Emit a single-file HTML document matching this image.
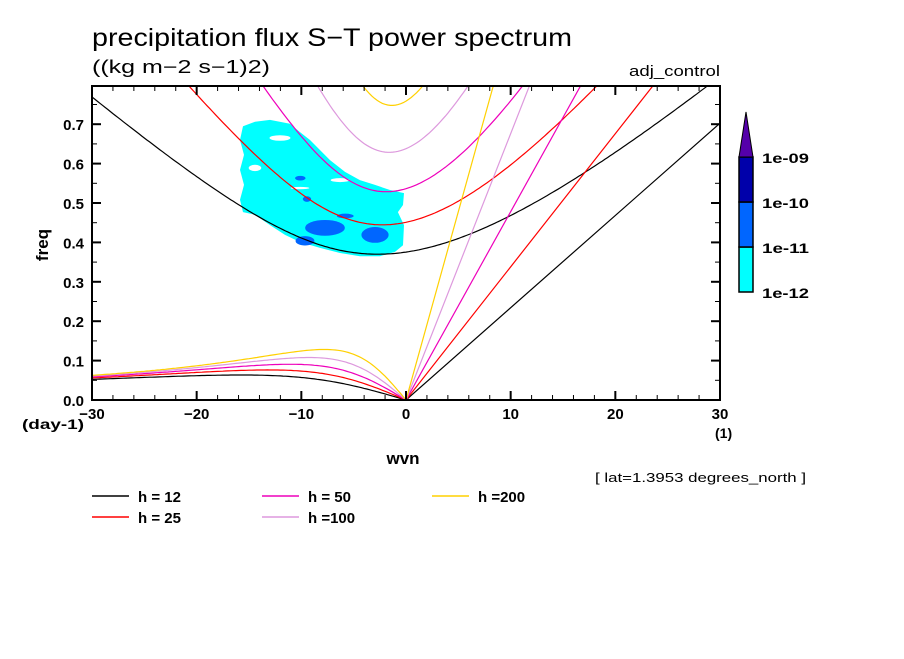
<!DOCTYPE html>
<html><head><meta charset="utf-8">
<style>
body{margin:0;background:#fff;}
svg text{font-family:"Liberation Sans",sans-serif;}
</style></head>
<body>
<svg id="c" width="904" height="654" viewBox="0 0 904 654" xmlns="http://www.w3.org/2000/svg">
<text x="92" y="46" font-size="25" textLength="480" lengthAdjust="spacingAndGlyphs">precipitation flux S−T power spectrum</text>
<text x="92" y="73" font-size="18" textLength="178" lengthAdjust="spacingAndGlyphs">((kg m−2 s−1)2)</text>
<text x="629" y="76" font-size="15" textLength="91" lengthAdjust="spacingAndGlyphs">adj_control</text>
<g id="plot"></g>
<text x="48" y="245" font-size="17" font-weight="bold" transform="rotate(-90 48 245)" text-anchor="middle">freq</text>
<text x="403" y="464" font-size="17" font-weight="bold" text-anchor="middle">wvn</text>
<text x="22" y="429" font-size="14" font-weight="bold" textLength="62" lengthAdjust="spacingAndGlyphs">(day-1)</text>
<text x="715" y="438" font-size="14" font-weight="bold">(1)</text>
<text x="595" y="482" font-size="13" textLength="211" lengthAdjust="spacingAndGlyphs">[ lat=1.3953 degrees_north ]</text>
<g id="cbar"></g>
<g id="legend"></g>
</svg>
<script>
const hValues=[12,25,50,100,200];
const hColors=['#000000','#ff0000','#ee00bb','#dd99dd','#ffd000'];
const hLabels=['h = 12','h = 25','h = 50','h =100','h =200'];
const xTicks=[-30,-20,-10,0,10,20,30];
const yTicks=[0.0,0.1,0.2,0.3,0.4,0.5,0.6,0.7];
const cbLevels=['1e-12','1e-11','1e-10','1e-09'];
const cbColors=['#00ffff','#0066ff','#0000aa','#5500aa'];
// contour region (wvn, freq) for 1e-12..1e-11 level
const blobWvn=[-15.57,-14.43,-12.99,-11.08,-10.13,-9.17,-7.26,-5.83,-4.40,-2.96,-1.53,-0.19,-0.29,-0.77,-0.19,-0.29,-1.05,-2.49,-4.40,-6.31,-8.22,-10.13,-11.56,-12.99,-14.43,-15.57,-15.86,-15.48,-15.86,-15.48,-15.86];
const blobFreq=[0.695,0.706,0.711,0.701,0.680,0.660,0.609,0.579,0.558,0.546,0.533,0.525,0.495,0.477,0.444,0.393,0.376,0.365,0.365,0.373,0.386,0.401,0.419,0.444,0.470,0.477,0.508,0.546,0.584,0.622,0.660];
// 1e-11..1e-10 patches: center wvn, center freq, half-width, half-height
const patchWvn=[-7.74,-2.96,-9.65,-9.46,-10.1,-5.8];
const patchFreq=[0.437,0.419,0.404,0.510,0.563,0.467];
const patchW=[1.9,1.3,0.9,0.4,0.5,0.8];
const patchH=[0.02,0.02,0.012,0.007,0.006,0.006];
// gaps below lowest level
const holeWvn=[-12.04,-14.43,-10.13,-6.3];
const holeFreq=[0.665,0.589,0.538,0.558];
const holeW=[1.0,0.6,0.9,0.9];
const holeH=[0.007,0.008,0.003,0.005];

const NS='http://www.w3.org/2000/svg';
const L=92,R=720,B=400,T=86,XMIN=-30,XMAX=30,PPF=394;
const sx=v=>L+(v-XMIN)/(XMAX-XMIN)*(R-L);
const sy=v=>B-v*PPF;
function mk(tag,at,parent){const e=document.createElementNS(NS,tag);for(const k in at)e.setAttribute(k,at[k]);parent.appendChild(e);return e;}
const plot=document.getElementById('plot');
const defs=mk('defs',{},plot);
const cp=mk('clipPath',{id:'clip'},defs);
mk('rect',{x:L,y:T,width:R-L,height:B-T},cp);
const g=mk('g',{'clip-path':'url(#clip)'},plot);

let d=blobWvn.map((w,i)=>(i?'L':'M')+sx(w).toFixed(1)+','+sy(blobFreq[i]).toFixed(1)).join('')+'Z';
const blob=mk('path',{d:d,fill:'#00ffff'},g);


holeWvn.forEach((w,i)=>{const e=mk('ellipse',{cx:sx(w),cy:sy(holeFreq[i]),rx:holeW[i]*(R-L)/60,ry:holeH[i]*PPF,fill:'#fff'},g);

});
patchWvn.forEach((w,i)=>{const e=mk('ellipse',{cx:sx(w),cy:sy(patchFreq[i]),rx:patchW[i]*(R-L)/60,ry:patchH[i]*PPF,fill:'#0066ff'},g);

});

const gr=9.81,a=6.371e6,beta=2.29e-11,toC=86400/(2*Math.PI);
hValues.forEach((h,hi)=>{
  const c=Math.sqrt(gr*h);const col=hColors[hi];
  let pts=[];
  for(let s=-30;s<=30.001;s+=0.25){const k=s/a;let w=Math.sqrt(c*c*k*k+3*beta*c)+1e-6;
    for(let it=0;it<50;it++){const f=w*w/(c*c)-k*k-beta*k/w-3*beta/c;const fp=2*w/(c*c)+beta*k/(w*w);w-=f/fp;}
    pts.push([s,w*toC]);}
  let p=mk('path',{d:pts.map((q,i)=>(i?'L':'M')+sx(q[0]).toFixed(1)+','+sy(q[1]).toFixed(1)).join(''),fill:'none',stroke:col,'stroke-width':1.2},g);
  
  
  pts=[];
  for(let s=-30;s<=0.001;s+=0.25){const k=s/a;let w=-beta*k/(k*k+3*beta/c);
    if(s<0){for(let it=0;it<30;it++){const f=w*w/(c*c)-k*k-beta*k/w-3*beta/c;const fp=2*w/(c*c)+beta*k/(w*w);w-=f/fp;}}
    pts.push([s,w*toC]);}
  p=mk('path',{d:pts.map((q,i)=>(i?'L':'M')+sx(q[0]).toFixed(1)+','+sy(q[1]).toFixed(1)).join(''),fill:'none',stroke:col,'stroke-width':1.2},g);
  
  
  const kf=s=>c*(s/a)*toC;
  p=mk('line',{x1:sx(0),y1:sy(0),x2:sx(30),y2:sy(kf(30)),stroke:col,'stroke-width':1.2},g);
  
  
});

const fr=mk('rect',{x:L,y:T,width:R-L,height:B-T,fill:'none',stroke:'#000','stroke-width':2},plot);


for(let v=-30;v<=30;v+=2){const maj=v%10===0;const x=sx(v);const len=maj?9:5;
  mk('line',{x1:x,y1:B,x2:x,y2:B-len,stroke:'#000','stroke-width':maj?2:1},plot);
  mk('line',{x1:x,y1:T,x2:x,y2:T+len,stroke:'#000','stroke-width':maj?2:1},plot);}
for(let i=0;i<=15;i++){const v=i*0.05;const y=sy(v);if(y<T)continue;const maj=i%2===0;const len=maj?9:5;
  mk('line',{x1:L,y1:y,x2:L+len,y2:y,stroke:'#000','stroke-width':maj?2:1},plot);
  mk('line',{x1:R,y1:y,x2:R-len,y2:y,stroke:'#000','stroke-width':maj?2:1},plot);}
xTicks.forEach(v=>{const t=mk('text',{x:sx(v),y:B+19,'font-size':15,'font-weight':'bold','text-anchor':'middle'},plot);t.textContent=v===0?'0':(v<0?'−'+(-v):''+v);
  
  });
yTicks.forEach(v=>{const t=mk('text',{x:L-8,y:sy(v)+6,'font-size':15,'font-weight':'bold','text-anchor':'end'},plot);t.textContent=v.toFixed(1);
  
  });

const cb=document.getElementById('cbar');
const cbx=739,cbw=14,cbB=292,seg=45;
for(let i=0;i<3;i++){const r=mk('rect',{x:cbx,y:cbB-(i+1)*seg,width:cbw,height:seg,fill:cbColors[i],stroke:'#000','stroke-width':1.5},cb);
  
  }
const tri=mk('polygon',{points:`${cbx},${cbB-3*seg} ${cbx+cbw},${cbB-3*seg} ${cbx+cbw/2},${cbB-3*seg-45}`,fill:cbColors[3],stroke:'#000','stroke-width':1},cb);


cbLevels.forEach((l,i)=>{const t=mk('text',{x:762,y:cbB-i*seg+6,'font-size':14,'font-weight':'bold',textLength:47,lengthAdjust:'spacingAndGlyphs'},cb);t.textContent=l;
  
  });

const lg=document.getElementById('legend');
hLabels.forEach((lab,i)=>{const col=Math.floor(i/2),row=i%2;const x=92+col*170,y=496+row*21;
  const e=mk('g',{},lg);
  
  
  mk('line',{x1:x,y1:y,x2:x+37,y2:y,stroke:hColors[i],'stroke-width':1.5},e);
  const t=mk('text',{x:x+46,y:y+6,'font-size':15,'font-weight':'bold'},e);t.textContent=lab;});
</script>
</body></html>
